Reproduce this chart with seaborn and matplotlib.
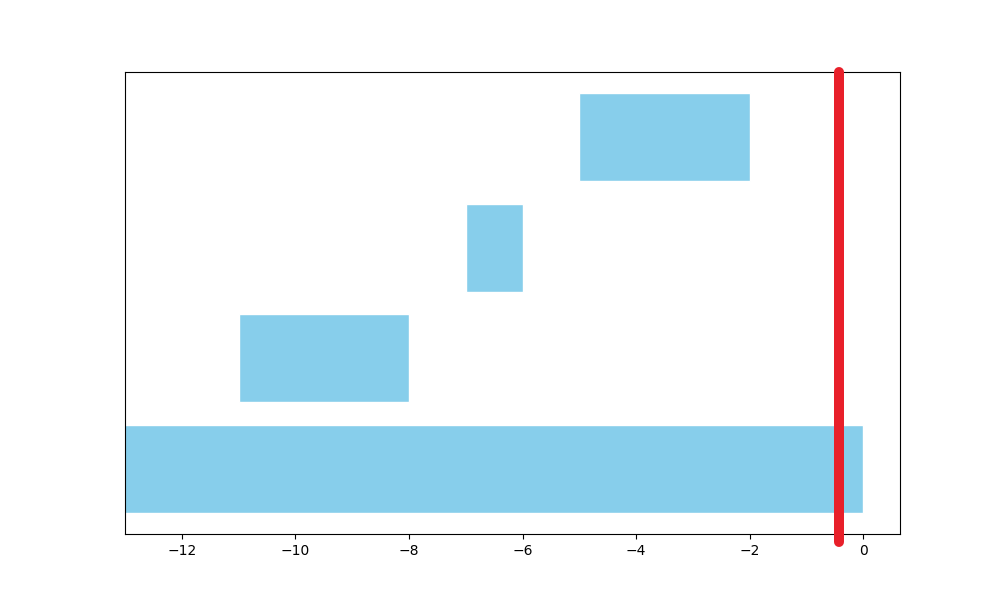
import matplotlib
matplotlib.use("Agg")
import matplotlib.pyplot as plt
import seaborn as sns
import pandas as pd

# Data
tasks = [0, 1, 2, 3]
starts = [-13.5, -11, -7, -5]
ends = [0, -8, -6, -2]
marker_x = -0.42

df = pd.DataFrame({"task": tasks, "start": starts, "end": ends})
df["width"] = df["end"] - df["start"]

sns.set_style("white")
plt.rcParams.update({"axes.edgecolor": "black", "axes.linewidth": 0.8,
                     "xtick.bottom": True, "xtick.color": "black",
                     "xtick.direction": "out", "xtick.major.size": 3.5,
                     "xtick.major.width": 0.8, "font.size": 10,
                     "xtick.labelsize": 10})

fig, ax = plt.subplots(figsize=(10, 6), dpi=100)
ax.barh(df["task"], df["width"], left=df["start"], height=0.8, color="skyblue")
ax.axvline(marker_x, ymin=-0.018, ymax=1.0, color="#e8202a", linewidth=7.2,
           solid_capstyle="round", clip_on=False, zorder=5)
ax.set_xlim(-13, 0.647)
ax.set_yticks([])
ax.set_xticks([-12, -10, -8, -6, -4, -2, 0])
ax.tick_params(axis="x", colors="black", labelcolor="black")
for s in ax.spines.values():
    s.set_visible(True)
    s.set_color("black")
fig.savefig("out.png", dpi=100)
